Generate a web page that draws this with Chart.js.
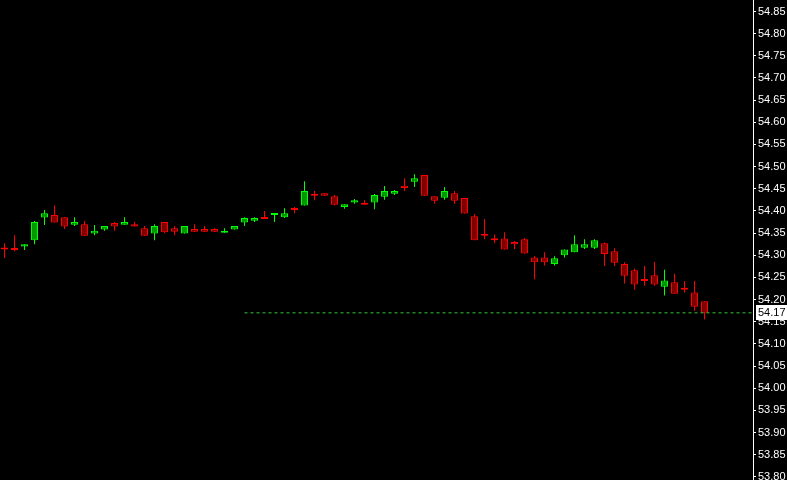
<!DOCTYPE html>
<html>
<head>
<meta charset="utf-8">
<script src="https://cdn.jsdelivr.net/npm/chart.js@4"></script>
<style>
  html, body { margin: 0; padding: 0; background: #000; }
  #wrap { width: 787px; height: 480px; }
</style>
</head>
<body>
<div id="wrap"><canvas id="chart" width="787" height="480"></canvas></div>
<script>
// one entry per candle, oldest first
const opens = [
  54.317, 54.316, 54.320, 54.334, 54.385, 54.391, 54.386, 54.369, 54.370, 54.349,
  54.358, 54.373, 54.369, 54.370, 54.361, 54.349, 54.375, 54.361, 54.349, 54.359,
  54.359, 54.359, 54.351, 54.358, 54.374, 54.378, 54.386, 54.391, 54.386, 54.406,
  54.412, 54.438, 54.440, 54.433, 54.409, 54.419, 54.418, 54.419, 54.432, 54.439,
  54.457, 54.466, 54.481, 54.433, 54.430, 54.440, 54.429, 54.388, 54.346, 54.338,
  54.338, 54.330, 54.336, 54.295, 54.295, 54.280, 54.300, 54.307, 54.317, 54.317,
  54.327, 54.309, 54.280, 54.266, 54.246, 54.255, 54.229, 54.239, 54.226, 54.216,
  54.196,
];
const highs = [
  54.327, 54.345, 54.325, 54.377, 54.402, 54.412, 54.386, 54.386, 54.377, 54.368,
  54.366, 54.375, 54.386, 54.375, 54.366, 54.370, 54.375, 54.366, 54.366, 54.370,
  54.366, 54.361, 54.361, 54.366, 54.386, 54.386, 54.400, 54.395, 54.406, 54.409,
  54.467, 54.445, 54.440, 54.436, 54.415, 54.427, 54.424, 54.438, 54.456, 54.447,
  54.474, 54.483, 54.481, 54.433, 54.454, 54.445, 54.429, 54.393, 54.382, 54.347,
  54.352, 54.332, 54.339, 54.298, 54.307, 54.298, 54.313, 54.345, 54.336, 54.336,
  54.329, 54.316, 54.284, 54.270, 54.276, 54.285, 54.267, 54.258, 54.242, 54.242,
  54.196,
];
const lows = [
  54.294, 54.309, 54.312, 54.325, 54.368, 54.374, 54.359, 54.366, 54.344, 54.345,
  54.355, 54.355, 54.369, 54.365, 54.344, 54.334, 54.350, 54.345, 54.349, 54.353,
  54.353, 54.353, 54.351, 54.358, 54.366, 54.375, 54.382, 54.375, 54.384, 54.395,
  54.412, 54.424, 54.434, 54.412, 54.405, 54.416, 54.414, 54.404, 54.425, 54.436,
  54.445, 54.454, 54.434, 54.416, 54.425, 54.416, 54.394, 54.334, 54.336, 54.327,
  54.313, 54.314, 54.304, 54.246, 54.277, 54.277, 54.295, 54.307, 54.314, 54.314,
  54.276, 54.276, 54.236, 54.222, 54.231, 54.231, 54.209, 54.213, 54.216, 54.175,
  54.155,
];
const closes = [
  54.313, 54.312, 54.325, 54.375, 54.395, 54.374, 54.365, 54.375, 54.344, 54.355,
  54.366, 54.365, 54.375, 54.365, 54.344, 54.366, 54.352, 54.353, 54.366, 54.353,
  54.353, 54.353, 54.355, 54.366, 54.384, 54.384, 54.382, 54.395, 54.395, 54.402,
  54.445, 54.434, 54.434, 54.414, 54.415, 54.424, 54.414, 54.436, 54.445, 54.445,
  54.452, 54.474, 54.434, 54.423, 54.445, 54.423, 54.394, 54.334, 54.344, 54.334,
  54.313, 54.325, 54.304, 54.284, 54.284, 54.293, 54.313, 54.325, 54.325, 54.334,
  54.303, 54.283, 54.254, 54.234, 54.242, 54.234, 54.243, 54.213, 54.222, 54.184,
  54.170,
];

const tickLabels = [
  "53.80", "53.85", "53.90", "53.95", "54.00", "54.05", "54.10", "54.15", "54.20",
  "54.25", "54.30", "54.35", "54.40", "54.45", "54.50", "54.55", "54.60", "54.65",
  "54.70", "54.75", "54.80", "54.85",
];

const lastPrice = closes[closes.length - 1];
const lastLineFrom = 24; // candle where the dashed last-price line starts

const UP = "#00ff00", UP_FILL = "#009a00";
const DOWN = "#ff0000", DOWN_FILL = "#800000";
const isUp = (i) => closes[i] >= opens[i];

const bodies = opens.map((o, i) => ({ x: i, y: [o, closes[i]] }));
const wicks = opens.map((o, i) => ({ x: i, y: [lows[i], highs[i]] }));

const bg = {
  id: "bg",
  beforeDraw(chart) {
    const { ctx, width, height } = chart;
    ctx.save();
    ctx.fillStyle = "#000";
    ctx.fillRect(0, 0, width, height);
    ctx.restore();
  },
};

const lastTag = {
  id: "lastTag",
  afterDraw(chart) {
    const { ctx, chartArea, width } = chart;
    const y = Math.round(chart.scales.y.getPixelForValue(lastPrice));
    ctx.save();
    ctx.fillStyle = "#fff";
    ctx.fillRect(chartArea.right + 3, y - 8, width - chartArea.right - 3, 15);
    ctx.fillStyle = "#000";
    ctx.font = "11px 'Liberation Sans'";
    ctx.textBaseline = "middle";
    ctx.fillText(lastPrice.toFixed(2), chartArea.right + 5, y);
    ctx.restore();
  },
};

new Chart(document.getElementById("chart"), {
  type: "bar",
  data: {
    datasets: [
      {
        data: wicks,
        backgroundColor: wicks.map((_, i) => (isUp(i) ? UP : DOWN)),
        barThickness: 1,
        borderWidth: 0,
        inflateAmount: 0,
        order: 3,
      },
      {
        data: bodies,
        backgroundColor: bodies.map((_, i) => (isUp(i) ? UP_FILL : DOWN_FILL)),
        borderColor: bodies.map((_, i) => (isUp(i) ? UP : DOWN)),
        borderWidth: 1,
        borderSkipped: false,
        barThickness: 7,
        minBarLength: 2,
        inflateAmount: 0,
        order: 2,
      },
      {
        type: "line",
        data: [
          { x: lastLineFrom, y: lastPrice },
          { x: 80, y: lastPrice },
        ],
        borderColor: "#33cc33",
        borderWidth: 1,
        borderDash: [3, 3],
        pointRadius: 0,
        order: 1,
      },
    ],
  },
  options: {
    responsive: false,
    animation: false,
    events: [],
    layout: { padding: 0 },
    datasets: { bar: { grouped: false } },
    plugins: { legend: { display: false }, tooltip: { enabled: false } },
    scales: {
      x: {
        type: "linear",
        display: false,
        offset: false,
        min: -0.45,
        max: 74.85,
      },
      y: {
        position: "right",
        min: 53.7928,
        max: 54.876,
        afterBuildTicks(scale) {
          scale.ticks = tickLabels.map((t) => ({ value: parseFloat(t) }));
        },
        afterFit(scale) {
          scale.width = 34;
          scale.paddingTop = 0;
          scale.paddingBottom = 0;
        },
        border: { display: true, color: "#fff", width: 1 },
        grid: { drawOnChartArea: false, color: "#fff", tickLength: 3, tickWidth: 1 },
        ticks: {
          color: "#fff",
          padding: 2,
          font: { family: "Liberation Sans", size: 11 },
          callback: (v) => v.toFixed(2),
        },
      },
    },
  },
  plugins: [bg, lastTag],
});
</script>
</body>
</html>
